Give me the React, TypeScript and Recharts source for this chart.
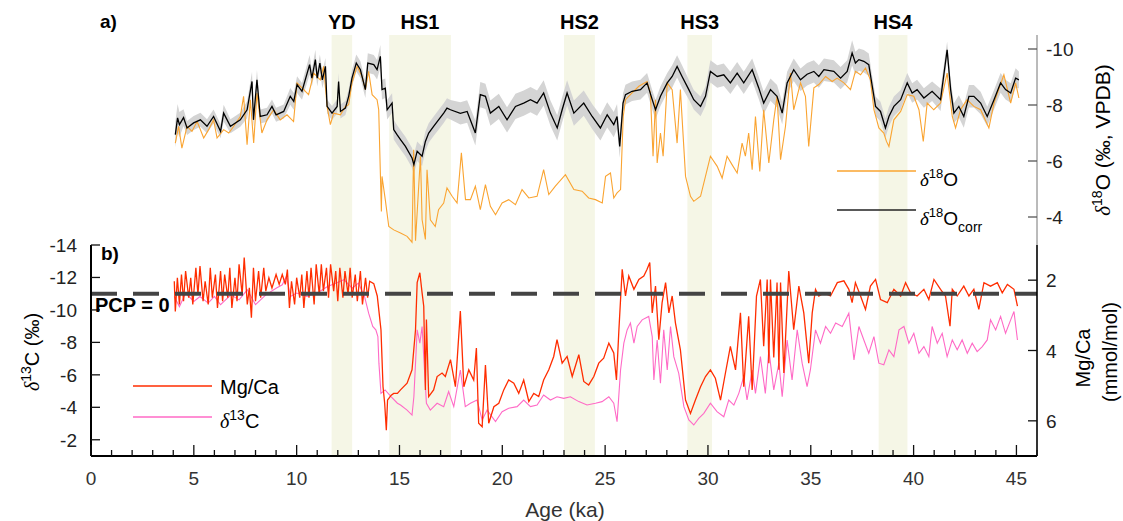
import React from "react";
import {
  ComposedChart,
  Line,
  Area,
  XAxis,
  YAxis,
  ReferenceArea,
  ReferenceLine,
} from "recharts";

const FONT = "'Liberation Sans', Arial, Helvetica, sans-serif";
const SERIF = "'Liberation Serif', 'Times New Roman', serif";

// stadial / Heinrich intervals (ka)
const eventNames = ["YD", "HS1", "HS2", "HS3", "HS4"];
const eventStart = [11.7, 14.5, 23.0, 29.0, 38.3];
const eventEnd = [12.7, 17.5, 24.5, 30.2, 39.7];

// tick values
const ageLabels = [0, 5, 10, 15, 20, 25, 30, 35, 40, 45];
const ageTicks = Array.from({ length: 47 }, (_, i) => i);
const o18Ticks = [-10, -8, -6, -4];
const c13Ticks = [-14, -12, -10, -8, -6, -4, -2];
const mgTicks = [2, 4, 6];
const pcpLevel = -11;

// [age ka, d18O corr, 1-sigma]
const d18Ocorr: number[][] = [
  [4.1,-6.94,0.45],[4.21,-7.54,0.5],[4.3,-7.3,0.45],[4.5,-7.55,0.3],[4.67,-7.18,0.25],[4.99,-7.36,0.25],[5.32,-7.47,0.25],[5.64,-7.24,0.25],[5.96,-7.59,0.25],[6.3,-7.06,0.25],[6.45,-7.71,0.3],[6.78,-7.24,0.25],[7.26,-7.47,0.25],[7.59,-7.83,0.3],[7.83,-8.84,0.35],[7.9,-7.47,0.25],[8.07,-8.9,0.35],[8.23,-7.59,0.25],[8.56,-7.65,0.25],[8.8,-7.95,0.25],[9.0,-7.65,0.25],[9.37,-7.77,0.25],[9.69,-8.31,0.3],[9.86,-8.13,0.3],[10.02,-8.73,0.3],[10.26,-8.49,0.3],[10.63,-9.44,0.35],[10.74,-8.96,0.3],[10.91,-9.62,0.35],[11.0,-8.96,0.3],[11.13,-9.5,0.3],[11.25,-8.9,0.3],[11.4,-9.38,0.3],[11.48,-7.95,0.25],[11.72,-7.71,0.25],[11.97,-7.95,0.25],[12.04,-8.84,0.3],[12.13,-7.77,0.25],[12.37,-7.89,0.25],[12.53,-8.31,0.25],[12.69,-8.96,0.3],[12.9,-9.5,0.3],[13.1,-9.26,0.3],[13.34,-8.55,0.3],[13.46,-9.5,0.35],[13.75,-9.44,0.35],[13.91,-9.26,0.35],[14.07,-9.74,0.4],[14.15,-8.55,0.35],[14.31,-8.6,0.35],[14.4,-7.83,0.35],[14.64,-8.07,0.35],[14.72,-7.12,0.35],[14.88,-6.94,0.35],[15.05,-6.76,0.35],[15.29,-6.52,0.35],[15.61,-6.11,0.35],[15.7,-5.87,0.35],[15.86,-6.35,0.35],[16.1,-6.17,0.35],[16.26,-6.7,0.35],[16.42,-7.0,0.35],[16.66,-7.24,0.35],[16.9,-7.47,0.35],[17.15,-7.71,0.35],[17.31,-7.89,0.35],[17.48,-7.83,0.35],[17.96,-7.7,0.4],[18.29,-7.77,0.4],[18.69,-7.0,0.45],[18.93,-8.37,0.45],[19.18,-8.31,0.45],[19.42,-7.71,0.45],[19.83,-7.95,0.45],[20.23,-7.47,0.45],[20.64,-7.95,0.45],[21.04,-8.07,0.45],[21.37,-8.19,0.45],[21.69,-8.07,0.45],[22.01,-8.43,0.45],[22.34,-7.71,0.45],[22.67,-7.18,0.45],[22.91,-7.83,0.45],[23.15,-8.43,0.45],[23.48,-7.71,0.45],[23.96,-8.07,0.45],[24.37,-7.59,0.45],[24.77,-7.18,0.45],[25.1,-7.65,0.45],[25.42,-7.3,0.45],[25.58,-7.59,0.45],[25.71,-6.52,0.4],[25.87,-8.07,0.35],[25.99,-8.37,0.35],[26.31,-8.49,0.35],[26.72,-8.55,0.35],[27.04,-8.79,0.35],[27.29,-8.19,0.35],[27.45,-7.83,0.35],[27.69,-8.31,0.35],[28.02,-8.79,0.35],[28.26,-9.02,0.4],[28.5,-9.38,0.4],[28.74,-9.02,0.4],[29.07,-8.55,0.35],[29.31,-8.19,0.35],[29.64,-7.95,0.35],[29.88,-8.31,0.35],[30.12,-9.2,0.4],[30.45,-9.02,0.4],[30.77,-9.08,0.4],[31.09,-8.79,0.4],[31.42,-9.14,0.4],[31.74,-8.79,0.4],[32.15,-9.26,0.4],[32.47,-8.61,0.4],[32.71,-8.07,0.4],[33.04,-8.55,0.4],[33.36,-8.31,0.4],[33.61,-7.71,0.4],[33.85,-8.79,0.4],[34.17,-9.26,0.4],[34.5,-8.9,0.4],[34.82,-9.1,0.4],[35.15,-9.2,0.4],[35.39,-9.02,0.4],[35.64,-9.26,0.4],[36.12,-9.2,0.4],[36.45,-8.96,0.4],[36.77,-9.2,0.4],[37.01,-9.86,0.45],[37.17,-9.5,0.4],[37.34,-9.62,0.4],[37.58,-9.56,0.4],[37.82,-9.44,0.4],[37.99,-8.67,0.35],[38.15,-7.95,0.35],[38.39,-7.77,0.35],[38.63,-7.18,0.35],[38.8,-7.59,0.35],[39.04,-7.95,0.35],[39.37,-8.19,0.35],[39.69,-8.79,0.35],[39.93,-8.43,0.35],[40.17,-8.55,0.35],[40.5,-8.25,0.35],[40.9,-8.49,0.35],[41.31,-8.19,0.4],[41.63,-9.97,0.3],[41.8,-8.55,0.35],[41.96,-7.71,0.35],[42.2,-7.95,0.4],[42.44,-7.59,0.4],[42.69,-8.31,0.4],[42.93,-8.31,0.4],[43.26,-8.07,0.4],[43.58,-7.59,0.35],[43.91,-8.19,0.35],[44.23,-8.79,0.35],[44.47,-8.55,0.35],[44.72,-8.43,0.35],[44.96,-8.96,0.35],[45.12,-8.9,0.3],
];

// [age ka, d18O]
const d18O: number[][] = [
  [4.1,-6.64],[4.26,-7.24],[4.42,-6.46],[4.67,-7.24],[4.91,-7.06],[5.16,-7.41],[5.48,-6.82],[5.72,-7.12],[5.96,-7.47],[6.13,-6.82],[6.45,-7.12],[6.7,-7.0],[6.94,-7.24],[7.26,-7.59],[7.42,-8.31],[7.59,-6.58],[7.75,-8.19],[7.91,-6.64],[8.07,-8.43],[8.31,-7.0],[8.56,-7.47],[8.88,-7.83],[9.2,-7.47],[9.53,-7.65],[9.85,-7.41],[10.02,-8.79],[10.26,-8.61],[10.58,-8.37],[10.83,-9.14],[11.15,-8.9],[11.31,-9.38],[11.48,-7.95],[11.64,-7.3],[11.8,-7.71],[12.13,-7.65],[12.37,-7.95],[12.53,-8.01],[12.69,-8.79],[12.94,-9.38],[13.18,-9.02],[13.34,-8.55],[13.5,-9.2],[13.67,-8.37],[13.91,-8.19],[13.99,-7.83],[14.07,-5.57],[14.12,-4.2],[14.15,-5.45],[14.31,-4.62],[14.48,-3.66],[14.72,-3.54],[15.05,-3.43],[15.37,-3.31],[15.61,-3.1],[15.69,-6.4],[15.78,-3.15],[16.02,-6.17],[16.1,-3.9],[16.26,-3.2],[16.34,-5.69],[16.5,-3.9],[16.74,-3.66],[16.9,-4.26],[17.15,-4.5],[17.31,-5.04],[17.56,-4.74],[17.8,-4.5],[18.01,-6.29],[18.21,-4.62],[18.45,-4.62],[18.69,-5.1],[18.93,-4.26],[19.18,-5.16],[19.42,-4.38],[19.67,-4.08],[19.99,-4.5],[20.31,-4.62],[20.64,-4.44],[20.96,-4.98],[21.29,-4.68],[21.69,-4.74],[22.01,-5.69],[22.26,-4.8],[22.58,-5.1],[23.07,-5.51],[23.48,-4.98],[23.88,-4.92],[24.2,-4.68],[24.53,-4.62],[24.86,-4.5],[25.02,-5.45],[25.26,-5.57],[25.42,-4.68],[25.58,-4.86],[25.75,-4.98],[25.88,-7.59],[25.99,-8.19],[26.31,-8.43],[26.64,-8.67],[27.04,-8.84],[27.2,-8.43],[27.33,-6.17],[27.45,-8.19],[27.53,-5.93],[27.69,-7.0],[27.82,-6.17],[28.02,-8.79],[28.26,-8.55],[28.5,-6.64],[28.66,-8.55],[28.91,-5.45],[29.15,-4.74],[29.31,-4.56],[29.64,-4.74],[29.96,-5.69],[30.12,-6.17],[30.45,-5.81],[30.69,-5.39],[30.93,-6.17],[31.17,-5.87],[31.42,-5.57],[31.66,-6.64],[31.82,-6.17],[31.98,-7.0],[32.15,-5.69],[32.31,-7.59],[32.52,-5.63],[32.71,-7.83],[32.96,-5.93],[33.2,-7.47],[33.36,-8.31],[33.53,-6.05],[33.77,-7.24],[34.01,-9.14],[34.17,-7.83],[34.5,-8.79],[34.74,-8.31],[34.9,-6.52],[35.15,-8.61],[35.39,-8.73],[35.72,-9.02],[36.04,-8.84],[36.28,-8.96],[36.61,-8.79],[36.93,-8.55],[37.17,-9.2],[37.42,-9.08],[37.66,-9.32],[37.9,-8.9],[38.07,-7.83],[38.31,-7.18],[38.55,-7.0],[38.68,-6.7],[38.8,-6.52],[39.04,-7.47],[39.37,-7.77],[39.69,-8.37],[40.01,-8.31],[40.26,-7.83],[40.47,-6.7],[40.66,-8.07],[40.98,-7.83],[41.31,-8.07],[41.63,-9.14],[41.88,-7.59],[42.04,-7.18],[42.28,-7.83],[42.6,-8.19],[42.93,-7.95],[43.26,-7.83],[43.66,-7.18],[43.91,-8.07],[44.39,-9.08],[44.72,-8.07],[44.96,-8.79],[45.12,-8.25],
];

// [age ka, Mg/Ca mmol/mol]
const mgCa: number[][] = [
  [4.05,2.03],[4.1,2.89],[4.2,1.93],[4.3,2.69],[4.4,1.84],[4.5,2.6],[4.6,1.74],[4.75,2.5],[4.85,1.93],[4.95,2.69],[5.1,1.65],[5.2,2.41],[5.3,1.6],[5.45,2.6],[5.55,2.03],[5.7,2.69],[5.8,1.65],[5.9,2.5],[6.05,1.84],[6.15,2.79],[6.3,1.74],[6.4,2.6],[6.5,1.84],[6.65,2.5],[6.75,1.65],[6.85,2.79],[7.0,1.93],[7.1,2.6],[7.2,1.55],[7.35,2.41],[7.45,1.36],[7.6,2.69],[7.7,2.22],[7.8,3.07],[7.9,1.65],[8.0,2.6],[8.15,1.74],[8.25,2.5],[8.4,1.65],[8.5,2.31],[8.65,1.93],[8.8,2.22],[9.0,1.84],[9.15,2.12],[9.3,1.84],[9.45,2.12],[9.55,1.7],[9.65,2.79],[9.75,2.03],[9.9,2.69],[10.0,1.93],[10.15,2.5],[10.25,1.84],[10.35,2.79],[10.5,1.74],[10.6,2.5],[10.7,1.65],[10.85,2.69],[10.95,1.55],[11.1,2.41],[11.2,1.55],[11.3,2.31],[11.45,1.65],[11.55,2.5],[11.65,1.55],[11.8,2.31],[11.9,1.74],[12.0,2.6],[12.1,1.65],[12.25,2.5],[12.35,1.74],[12.5,2.41],[12.6,1.65],[12.7,2.5],[12.85,1.84],[12.95,2.6],[13.1,1.74],[13.2,2.69],[13.35,1.93],[13.45,2.5],[13.55,2.03],[13.75,2.1],[13.92,2.45],[14.1,3.41],[14.2,5.03],[14.28,5.5],[14.36,6.27],[14.42,5.41],[14.6,5.27],[14.72,5.22],[14.9,5.22],[15.05,5.12],[15.37,4.93],[15.61,4.55],[15.78,3.41],[15.86,2.07],[15.99,1.79],[16.1,2.36],[16.18,2.74],[16.26,5.12],[16.31,3.12],[16.42,5.31],[16.66,5.12],[16.83,4.74],[17.07,4.64],[17.23,4.74],[17.48,4.26],[17.72,5.03],[17.96,2.88],[18.13,5.03],[18.37,4.55],[18.61,4.84],[18.74,3.93],[18.85,6.07],[19.02,6.17],[19.18,4.41],[19.34,6.07],[19.59,5.6],[19.83,5.5],[20.07,5.12],[20.31,4.84],[20.56,4.93],[20.8,5.22],[21.04,4.84],[21.29,5.45],[21.53,5.22],[21.77,5.31],[22.01,4.84],[22.26,4.55],[22.5,4.17],[22.66,3.69],[22.91,4.36],[23.15,4.17],[23.4,4.74],[23.72,4.12],[23.96,4.88],[24.2,4.98],[24.45,4.74],[24.69,4.36],[24.93,4.22],[25.18,3.79],[25.42,4.07],[25.55,4.84],[25.67,3.41],[25.83,1.69],[25.99,2.45],[26.15,1.88],[26.4,2.26],[26.64,1.98],[26.88,1.88],[27.04,1.69],[27.17,1.5],[27.29,2.93],[27.45,2.17],[27.61,3.69],[27.77,2.64],[27.94,2.07],[28.1,2.93],[28.26,2.45],[28.42,3.22],[28.66,3.98],[28.91,5.41],[29.15,5.79],[29.39,5.41],[29.64,5.03],[29.88,4.74],[30.12,4.55],[30.36,4.79],[30.61,5.41],[30.85,4.64],[31.09,3.88],[31.34,4.55],[31.58,2.93],[31.74,5.03],[31.98,3.03],[32.15,5.12],[32.36,2.45],[32.55,1.98],[32.71,3.88],[32.88,1.98],[32.96,4.36],[33.04,1.98],[33.2,4.2],[33.36,2.07],[33.45,4.55],[33.53,2.07],[33.69,4.64],[33.93,1.74],[34.17,3.41],[34.42,2.17],[34.66,2.93],[34.9,4.36],[35.07,2.93],[35.23,2.26],[35.39,2.45],[35.64,2.36],[35.96,2.45],[36.29,2.07],[36.61,2.02],[36.85,2.26],[37.01,2.64],[37.17,2.07],[37.42,2.45],[37.66,2.83],[37.9,2.17],[38.15,1.98],[38.39,2.55],[38.72,2.64],[39.04,2.26],[39.37,2.45],[39.61,2.07],[39.85,2.36],[40.17,2.45],[40.5,2.26],[40.74,2.55],[40.99,1.98],[41.31,2.26],[41.55,2.45],[41.77,3.31],[41.88,2.26],[42.12,2.45],[42.44,2.17],[42.69,2.45],[42.93,2.26],[43.17,2.83],[43.42,2.07],[43.74,2.17],[44.07,2.07],[44.31,2.36],[44.56,2.12],[44.88,2.26],[45.05,2.74],
];

// [age ka, d13C]
const d13C: number[][] = [
  [4.05,-10.83],[4.3,-10.2],[4.6,-11.04],[5.0,-10.52],[5.3,-10.83],[5.7,-10.42],[6.0,-10.83],[6.3,-10.32],[6.8,-10.93],[7.2,-10.62],[7.6,-11.24],[8.0,-10.32],[8.5,-10.93],[9.0,-11.34],[9.3,-11.55],[9.5,-12.06],[9.7,-10.83],[10.0,-11.04],[10.5,-10.83],[11.0,-11.04],[11.5,-11.44],[11.9,-11.65],[12.3,-11.86],[12.7,-11.34],[13.0,-11.65],[13.3,-10.83],[13.5,-9.8],[13.7,-8.98],[13.85,-8.77],[13.95,-8.36],[14.0,-6.72],[14.1,-4.86],[14.3,-5.07],[14.6,-4.65],[14.9,-4.25],[15.05,-4.14],[15.37,-3.83],[15.61,-3.52],[15.7,-4.65],[15.86,-8.77],[15.99,-7.95],[16.1,-8.98],[16.18,-7.12],[16.31,-4.25],[16.5,-3.83],[16.83,-4.25],[17.15,-4.04],[17.39,-4.97],[17.64,-4.04],[17.96,-6.3],[18.2,-4.04],[18.45,-4.25],[18.77,-4.45],[19.02,-3.22],[19.26,-3.83],[19.67,-3.12],[19.99,-3.73],[20.31,-3.94],[20.72,-4.04],[21.04,-4.45],[21.37,-4.04],[21.69,-4.14],[22.01,-4.76],[22.34,-4.45],[22.66,-4.65],[22.99,-4.55],[23.31,-4.65],[23.72,-4.35],[24.12,-4.14],[24.53,-4.25],[24.85,-4.35],[25.18,-4.65],[25.42,-4.25],[25.58,-3.12],[25.75,-6.3],[25.91,-7.95],[26.07,-8.77],[26.23,-9.19],[26.4,-7.95],[26.56,-8.98],[26.8,-9.39],[27.12,-9.6],[27.29,-8.36],[27.37,-5.68],[27.53,-8.15],[27.69,-5.48],[27.85,-8.77],[28.02,-6.3],[28.18,-8.98],[28.34,-7.12],[28.58,-6.09],[28.83,-4.04],[29.07,-3.22],[29.31,-2.91],[29.55,-3.32],[29.8,-3.63],[30.12,-4.25],[30.44,-3.73],[30.77,-3.42],[31.01,-4.45],[31.26,-4.14],[31.5,-4.86],[31.74,-5.89],[31.9,-4.45],[32.15,-6.3],[32.31,-4.86],[32.55,-7.12],[32.79,-4.86],[32.96,-7.54],[33.2,-5.07],[33.45,-6.72],[33.61,-4.65],[33.85,-8.15],[34.09,-5.68],[34.34,-8.77],[34.58,-6.72],[34.82,-5.27],[34.98,-6.3],[35.23,-8.77],[35.47,-7.95],[35.72,-8.98],[35.96,-8.56],[36.21,-9.19],[36.53,-8.98],[36.85,-9.8],[37.1,-6.92],[37.34,-8.98],[37.58,-8.15],[37.82,-7.33],[38.07,-8.36],[38.31,-6.72],[38.55,-6.62],[38.8,-7.54],[39.04,-7.12],[39.29,-8.77],[39.53,-8.98],[39.77,-7.95],[40.01,-8.56],[40.26,-7.33],[40.5,-7.74],[40.74,-7.12],[40.9,-8.98],[41.15,-7.95],[41.39,-8.56],[41.63,-7.12],[41.88,-8.15],[42.12,-7.54],[42.36,-8.15],[42.61,-7.33],[42.85,-7.95],[43.09,-7.43],[43.34,-7.74],[43.58,-8.15],[43.74,-9.39],[43.99,-8.77],[44.23,-9.6],[44.47,-8.56],[44.72,-9.39],[44.88,-9.9],[45.05,-8.15],
];

const corrRows = d18Ocorr.map(([age, v, e]) => ({ age, corr: v, band: [v - e, v + e] }));
const o18Rows = d18O.map(([age, v]) => ({ age, v }));
const mgRows = mgCa.map(([age, v]) => ({ age, v }));
const c13Rows = d13C.map(([age, v]) => ({ age, v }));

const BAND = "#f5f6e6";
const ORANGE = "#faa431";
const RED = "#ff2d00";
const PINK = "#ff6ac6";

function AgeTick({ x, y, payload }: any) {
  const v = payload.value;
  const major = ageLabels.includes(v);
  return (
    <g>
      <line x1={x} x2={x} y1={y} y2={y - (major ? 11 : 6)} stroke="#111" strokeWidth={1.3} />
      {major ? (
        <text x={x} y={y + 29} textAnchor="middle" fontSize={19} fontFamily={FONT} fill="#333">
          {v}
        </text>
      ) : null}
    </g>
  );
}

function LeftTick({ x, y, payload }: any) {
  return (
    <g>
      <line x1={x} x2={x + 9} y1={y} y2={y} stroke="#111" strokeWidth={1.3} />
      <text x={x - 14} y={y + 7} textAnchor="end" fontSize={19} fontFamily={FONT} fill="#222">
        {payload.value}
      </text>
    </g>
  );
}

function RightTick({ x, y, payload, color }: any) {
  return (
    <g>
      <line x1={x} x2={x - 9} y1={y} y2={y} stroke={color || "#111"} strokeWidth={1.3} />
      <text x={x + 9} y={y + 7} textAnchor="start" fontSize={19} fontFamily={FONT} fill="#222">
        {payload.value}
      </text>
    </g>
  );
}

function Delta() {
  return (
    <tspan fontFamily={SERIF} fontStyle="italic">
      δ
    </tspan>
  );
}

function Overlay() {
  return (
    <svg
      width={1123}
      height={521}
      style={{ position: "absolute", left: 0, top: 0, pointerEvents: "none" }}
      fontFamily={FONT}
    >
      <text x={100} y={28} fontSize={19} fontWeight="bold">a)</text>
      <text x={101} y={260} fontSize={19} fontWeight="bold">b)</text>

      {/* legend panel a */}
      <line x1={837} x2={916} y1={171} y2={171} stroke={ORANGE} strokeWidth={1.3} />
      <text x={920} y={186} fontSize={19}>
        <Delta />
        <tspan fontSize={13} dy={-8}>18</tspan>
        <tspan dy={8}>O</tspan>
      </text>
      <line x1={837} x2={916} y1={210} y2={210} stroke="#222" strokeWidth={1.3} />
      <text x={920} y={225} fontSize={19}>
        <Delta />
        <tspan fontSize={13} dy={-8}>18</tspan>
        <tspan dy={8}>O</tspan>
        <tspan fontSize={14} dy={7}>corr</tspan>
      </text>

      {/* legend panel b */}
      <line x1={133} x2={212} y1={386} y2={386} stroke={RED} strokeWidth={1.3} />
      <text x={220} y={394} fontSize={20}>Mg/Ca</text>
      <line x1={133} x2={212} y1={417} y2={417} stroke={PINK} strokeWidth={1.3} />
      <text x={220} y={428} fontSize={20}>
        <Delta />
        <tspan fontSize={14} dy={-8}>13</tspan>
        <tspan dy={8}>C</tspan>
      </text>

      {/* axis titles */}
      <text x={1103} y={147} fontSize={21} textAnchor="middle" transform="rotate(-90 1103 140)">
        <Delta />
        <tspan fontSize={14} dy={-8}>18</tspan>
        <tspan dy={8}>O (‰, VPDB)</tspan>
      </text>
      <text x={1083} y={365} fontSize={20} textAnchor="middle" transform="rotate(-90 1083 358)">
        Mg/Ca
      </text>
      <text x={1110} y={359} fontSize={20} textAnchor="middle" transform="rotate(-90 1110 352)">
        (mmol/mol)
      </text>
      <text x={32} y={359} fontSize={20} textAnchor="middle" transform="rotate(-90 32 352)">
        <Delta />
        <tspan fontSize={14} dy={-8}>13</tspan>
        <tspan dy={8}>C (‰)</tspan>
      </text>
      <text x={565} y={517} fontSize={21} textAnchor="middle" fill="#333">
        Age (ka)
      </text>
    </svg>
  );
}

export default function App() {
  return (
    <div
      style={{
        position: "absolute",
        left: 0,
        top: 0,
        width: 1123,
        height: 521,
        background: "#fff",
        fontFamily: FONT,
      }}
    >
      {/* panel a: d18O */}
      <div style={{ position: "absolute", left: 0, top: 0 }}>
        <ComposedChart width={1123} height={260} data={corrRows} margin={{ top: 35, right: 0, bottom: 15, left: 91 }}>
          <XAxis type="number" dataKey="age" domain={[0, 46]} ticks={ageTicks} allowDataOverflow hide />
          <YAxis
            yAxisId="o"
            orientation="right"
            width={86}
            domain={[-10.5, -3]}
            reversed
            allowDataOverflow
            ticks={o18Ticks}
            interval={0}
            tickSize={0}
            tickMargin={0}
            tickLine={false}
            tick={(p: any) => <RightTick {...p} color="#555" />}
            axisLine={{ stroke: "#777", strokeWidth: 1 }}
          />
          {eventNames.map((n, i) => (
            <ReferenceArea
              key={n}
              yAxisId="o"
              x1={eventStart[i]}
              x2={eventEnd[i]}
              fill={BAND}
              fillOpacity={1}
              stroke="none"
              label={{
                value: n,
                position: "top",
                offset: 6,
                fill: "#000",
                fontSize: 20,
                fontWeight: "bold",
                fontFamily: FONT,
              }}
            />
          ))}
          <Area
            yAxisId="o"
            type="linear"
            dataKey="band"
            stroke="none"
            fill="#d4d4d4"
            fillOpacity={1}
            isAnimationActive={false}
          />
          <Line
            yAxisId="o"
            type="linear"
            data={o18Rows}
            dataKey="v"
            stroke={ORANGE}
            strokeWidth={1.1}
            dot={false}
            isAnimationActive={false}
          />
          <Line
            yAxisId="o"
            type="linear"
            dataKey="corr"
            stroke="#000"
            strokeWidth={1.3}
            dot={false}
            isAnimationActive={false}
          />
        </ComposedChart>
      </div>

      {/* panel b: Mg/Ca and d13C */}
      <div style={{ position: "absolute", left: 0, top: 0 }}>
        <ComposedChart width={1123} height={521} margin={{ top: 245, right: 0, bottom: 0, left: 0 }}>
          <XAxis
            type="number"
            dataKey="age"
            domain={[0, 46]}
            ticks={ageTicks}
            interval={0}
            allowDataOverflow
            height={65}
            tickSize={0}
            tickMargin={0}
            tickLine={false}
            tick={AgeTick}
            axisLine={{ stroke: "#000", strokeWidth: 2 }}
          />
          <YAxis
            yAxisId="c13"
            orientation="left"
            width={91}
            domain={[-14, -1]}
            reversed
            allowDataOverflow
            ticks={c13Ticks}
            interval={0}
            tickSize={0}
            tickMargin={0}
            tickLine={false}
            tick={LeftTick}
            axisLine={{ stroke: "#000", strokeWidth: 2 }}
          />
          <YAxis
            yAxisId="mg"
            orientation="right"
            width={86}
            domain={[1, 7]}
            reversed
            allowDataOverflow
            ticks={mgTicks}
            interval={0}
            tickSize={0}
            tickMargin={0}
            tickLine={false}
            tick={RightTick}
            axisLine={{ stroke: "#000", strokeWidth: 1.6 }}
          />
          {eventNames.map((n, i) => (
            <ReferenceArea
              key={n}
              yAxisId="c13"
              x1={eventStart[i]}
              x2={eventEnd[i]}
              fill={BAND}
              fillOpacity={1}
              stroke="none"
            />
          ))}
          <Line
            yAxisId="c13"
            type="linear"
            data={c13Rows}
            dataKey="v"
            stroke={PINK}
            strokeWidth={1.1}
            dot={false}
            isAnimationActive={false}
          />
          <Line
            yAxisId="mg"
            type="linear"
            data={mgRows}
            dataKey="v"
            stroke={RED}
            strokeWidth={1.3}
            dot={false}
            isAnimationActive={false}
          />
          <ReferenceLine
            yAxisId="c13"
            y={pcpLevel}
            stroke="#444"
            strokeWidth={4}
            strokeDasharray="26 16"
            label={{
              value: "PCP = 0",
              position: "insideTopLeft",
              offset: 4,
              fill: "#000",
              fontSize: 20,
              fontWeight: "bold",
              fontFamily: FONT,
            }}
          />
        </ComposedChart>
      </div>

      <Overlay />
    </div>
  );
}
